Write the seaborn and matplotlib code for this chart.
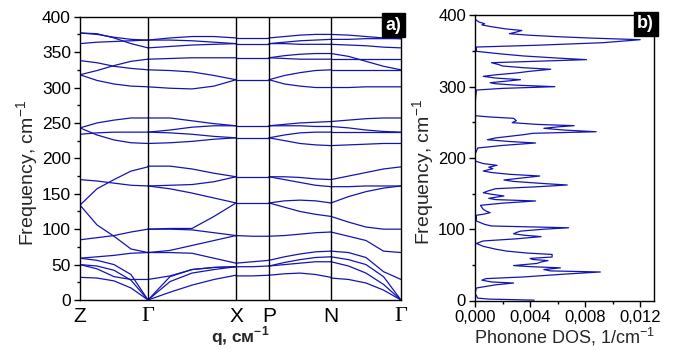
import numpy as np
import pandas as pd
import matplotlib
matplotlib.use("Agg")
import matplotlib.pyplot as plt
from matplotlib.ticker import MultipleLocator, FuncFormatter
import seaborn as sns

# ---------------------------------------------------------------------------
# Data
# ---------------------------------------------------------------------------
# High-symmetry points of the path and their cumulative path length
sym_labels = ["Z", "Γ", "X", "P", "N", "Γ"]
sym_dist = [0, 68, 156, 189, 251, 321]

# Phonon branches (cm^-1) for each path segment, sampled evenly along it
branches_Z_G = [
    [32, 31, 27, 17, 0],
    [50, 48, 42, 28, 0],
    [59, 56, 50, 36, 0],
    [50, 44, 33, 29, 29],
    [59, 61, 63, 66, 67],
    [85, 88, 91, 96, 100],
    [134, 106, 90, 72, 67],
    [134, 157, 170, 182, 188],
    [170, 168, 165, 162, 161],
    [243, 250, 254, 257, 257],
    [243, 233, 226, 222, 221],
    [234, 236, 237, 237, 237],
    [318, 310, 305, 302, 301],
    [318, 324, 331, 337, 340],
    [338, 335, 330, 327, 325],
    [362, 364, 365, 366, 367],
    [377, 376, 370, 362, 356],
    [377, 375, 371, 368, 367],
]
branches_G_X = [
    [0, 11, 21, 29, 35],
    [0, 26, 38, 43, 47],
    [0, 33, 43, 46, 47],
    [29, 34, 43, 46, 47],
    [67, 67, 66, 59, 52],
    [67, 70, 77, 84, 91],
    [100, 100, 99, 95, 91],
    [100, 101, 101, 118, 137],
    [161, 157, 151, 144, 137],
    [161, 162, 163, 167, 174],
    [189, 189, 185, 179, 174],
    [257, 257, 253, 249, 246],
    [237, 240, 244, 246, 246],
    [237, 236, 234, 231, 229],
    [221, 222, 224, 227, 229],
    [301, 299, 298, 302, 311],
    [325, 324, 322, 317, 311],
    [340, 341, 342, 342, 342],
    [356, 358, 360, 361, 362],
    [367, 370, 372, 372, 370],
    [367, 367, 366, 364, 362],
]
branches_X_P = [
    [34, 34, 35],
    [47, 47, 48],
    [52, 54, 56],
    [91, 90, 90],
    [137, 137, 137],
    [174, 174, 174],
    [229, 229, 229],
    [246, 246, 246],
    [311, 311, 311],
    [342, 342, 342],
    [362, 362, 362],
    [370, 370, 370],
]
branches_P_N = [
    [35, 37, 38, 36, 32],
    [48, 50, 52, 54, 54],
    [48, 53, 57, 60, 61],
    [56, 61, 65, 68, 69],
    [90, 91, 93, 95, 96],
    [137, 131, 125, 121, 118],
    [137, 140, 141, 140, 137],
    [174, 174, 173, 171, 170],
    [174, 170, 166, 162, 160],
    [246, 248, 250, 251, 252],
    [246, 246, 246, 245, 245],
    [229, 233, 236, 237, 237],
    [229, 225, 221, 219, 218],
    [311, 305, 302, 300, 300],
    [311, 317, 321, 324, 325],
    [342, 345, 347, 348, 348],
    [342, 341, 340, 340, 340],
    [362, 362, 361, 361, 361],
    [370, 372, 374, 375, 375],
    [362, 364, 366, 367, 368],
]
branches_N_G = [
    [31, 29, 24, 14, 0],
    [54, 48, 38, 22, 0],
    [61, 57, 50, 33, 0],
    [69, 67, 60, 40, 29],
    [96, 90, 84, 69, 67],
    [118, 110, 103, 100, 100],
    [137, 146, 153, 158, 161],
    [160, 160, 161, 161, 161],
    [170, 175, 180, 185, 188],
    [252, 254, 256, 257, 257],
    [245, 243, 240, 238, 237],
    [237, 237, 237, 237, 237],
    [218, 219, 220, 221, 221],
    [300, 300, 301, 301, 301],
    [325, 325, 325, 325, 325],
    [348, 344, 337, 330, 325],
    [340, 340, 340, 340, 340],
    [361, 360, 359, 357, 356],
    [375, 374, 372, 370, 369],
    [368, 368, 369, 369, 369],
]
segments = [branches_Z_G, branches_G_X, branches_X_P, branches_P_N, branches_N_G]

# Phonon density of states: frequency (cm^-1) and DOS (1/cm^-1), in curve order
dos_freq = [
    0.5, 2, 3.3, 10, 17.5, 22, 24.5, 26, 28.5, 30.7, 33, 37, 40, 41.5, 43.4,
    45.8, 47.5, 49, 52, 54, 56, 57.5, 59, 61, 64.6, 66.5, 69.3, 72, 76, 80,
    83.5, 86.5, 89.6, 91.5, 93.5, 95.3, 97.3, 100, 102, 104.5, 106.8, 111.5,
    119.5, 121, 123.2, 125.5, 127.9, 130.5, 133.5, 136.5, 139.6, 141.5, 143.3,
    146.6, 149, 151.2, 154, 156.8, 159.5, 162, 164, 167, 169, 172, 174.6, 177,
    179.5, 181.6, 184.9, 187, 189.6, 192, 195.7, 205, 213.9, 217.5, 220.9, 223,
    225.5, 228, 230.7, 232.5, 234.5, 236.7, 239, 241.5, 243.5, 245.2, 247,
    249.4, 252.2, 255.5, 257.5, 259.2, 275, 295.2, 297.5, 299.9, 302, 304,
    305.5, 307.5, 309.7, 312, 314.4, 316.5, 319.1, 321.5, 324.3, 326.5, 328.9,
    331, 333.5, 335.5, 337.8, 340, 343, 346, 349.5, 352.5, 355.5, 358, 361.6,
    363.5, 365.8, 368, 370, 372, 374.2, 376.5, 378.7, 381, 384, 386.5, 388.2,
    390.5, 393, 395.3,
]
dos_value = [
    0.0043, 0.0010, 0.0002, 0.0000, 0.0001, 0.0015, 0.0028, 0.0012, 0.0005,
    0.0008, 0.0035, 0.0065, 0.0091, 0.0055, 0.0050, 0.0062, 0.0040, 0.0028,
    0.0045, 0.0048, 0.0053, 0.0042, 0.0040, 0.0056, 0.0056, 0.0038, 0.0023,
    0.0015, 0.0006, 0.0001, 0.0006, 0.0030, 0.0048, 0.0036, 0.0028, 0.0030,
    0.0033, 0.0050, 0.0068, 0.0012, 0.0007, 0.0001, 0.0001, 0.0006, 0.0011,
    0.0008, 0.0006, 0.0005, 0.0004, 0.0020, 0.0044, 0.0015, 0.0010, 0.0021,
    0.0012, 0.0006, 0.0010, 0.0015, 0.0045, 0.0067, 0.0050, 0.0028, 0.0021,
    0.0035, 0.0047, 0.0025, 0.0012, 0.0006, 0.0013, 0.0010, 0.0016, 0.0006,
    0.0000, 0.0000, 0.0002, 0.0020, 0.0044, 0.0025, 0.0009, 0.0015, 0.0027,
    0.0035, 0.0042, 0.0088, 0.0065, 0.0050, 0.0060, 0.0072, 0.0045, 0.0027,
    0.0030, 0.0028, 0.0010, 0.0000, 0.0000, 0.0001, 0.0020, 0.0058, 0.0030,
    0.0015, 0.0011, 0.0022, 0.0033, 0.0015, 0.0006, 0.0015, 0.0030, 0.0040,
    0.0055, 0.0035, 0.0020, 0.0017, 0.0012, 0.0045, 0.0081, 0.0060, 0.0035,
    0.0018, 0.0001, 0.0001, 0.0001, 0.0045, 0.0093, 0.0105, 0.0120, 0.0085,
    0.0060, 0.0040, 0.0025, 0.0030, 0.0034, 0.0022, 0.0012, 0.0005, 0.0007,
    0.0003, 0.0001, 0.0000,
]

# ---------------------------------------------------------------------------
# Styling
# ---------------------------------------------------------------------------
sns.set_theme(style="ticks")
plt.rcParams["font.family"] = ["Liberation Sans", "DejaVu Sans"]
plt.rcParams.update({
    "mathtext.fontset": "custom",
    "mathtext.rm": "Liberation Sans",
    "mathtext.bf": "Liberation Sans:bold",
    "axes.edgecolor": "black",
    "axes.linewidth": 1.0,
    "xtick.color": "black",
    "ytick.color": "black",
    "xtick.direction": "out",
    "ytick.direction": "out",
})
line_color = "#1414b4"

# Long-form table of all dispersion branches
rows = []
bid = 0
for i, seg in enumerate(segments):
    for br in seg:
        q = np.linspace(sym_dist[i], sym_dist[i + 1], len(br))
        for qq, f in zip(q, br):
            rows.append({"q": qq, "freq": f, "branch": bid})
        bid += 1
disp = pd.DataFrame(rows)
dos = pd.DataFrame({"freq": dos_freq, "dos": dos_value})

fig = plt.figure(figsize=(6.75, 3.5), dpi=100)
ax1 = fig.add_axes([80 / 675, 50 / 350, 321 / 675, 283.3 / 350])
ax2 = fig.add_axes([475 / 675, 49.5 / 350, 179 / 675, 285.2 / 350])

# ---------------------------------------------------------------------------
# a) dispersion
# ---------------------------------------------------------------------------
sns.lineplot(data=disp, x="q", y="freq", units="branch", estimator=None,
             color=line_color, linewidth=0.9, ax=ax1, legend=False)
for d in sym_dist[1:-1]:
    ax1.axvline(d, color="black", linewidth=1.0, zorder=3)
ax1.set_xlim(sym_dist[0], sym_dist[-1])
ax1.set_ylim(0, 400)
ax1.set_xticks(sym_dist)
ax1.set_xticklabels(sym_labels)
for lab in ax1.get_xticklabels():
    if lab.get_text() == "Γ":
        lab.set_family(["Liberation Serif", "DejaVu Serif"])
        lab.set_fontsize(16)
    else:
        lab.set_fontsize(15)
ax1.tick_params(axis="x", length=0, pad=5)
ax1.yaxis.set_major_locator(MultipleLocator(50))
ax1.yaxis.set_minor_locator(MultipleLocator(25))
ax1.tick_params(axis="y", which="major", length=4.5, width=1, labelsize=12.5, pad=2)
ax1.tick_params(axis="y", which="minor", length=2.5, width=1)
ax1.set_ylabel("Frequency, cm$^{-1}$", fontsize=14)
ax1.yaxis.set_label_coords(-0.123, 0.45)
ax1.set_xlabel("q, см$^{\\mathbf{-1}}$", fontsize=12.5, fontweight="bold")
ax1.xaxis.set_label_coords(0.5, -0.085)
ax1.text(1.0, 1.0, "a)", transform=ax1.transAxes, ha="right", va="top",
         color="white", fontsize=13, fontweight="bold", zorder=5,
         bbox=dict(boxstyle="square,pad=0.2", facecolor="black", edgecolor="black"))

# ---------------------------------------------------------------------------
# b) density of states
# ---------------------------------------------------------------------------
sns.lineplot(data=dos, x="dos", y="freq", sort=False, estimator=None,
             color=line_color, linewidth=0.9, ax=ax2, legend=False)
ax2.set_xlim(0, 0.013)
ax2.set_ylim(0, 400)
ax2.xaxis.set_major_locator(MultipleLocator(0.004))
ax2.xaxis.set_minor_locator(MultipleLocator(0.002))
ax2.yaxis.set_major_locator(MultipleLocator(100))
ax2.yaxis.set_minor_locator(MultipleLocator(50))
ax2.xaxis.set_major_formatter(FuncFormatter(lambda v, p: f"{v:.3f}".replace(".", ",")))
ax2.tick_params(axis="both", which="major", length=4.5, width=1, labelsize=12, pad=2)
ax2.tick_params(axis="both", which="minor", length=2.5, width=1)
ax2.set_ylabel("Frequency, cm$^{-1}$", fontsize=14)
ax2.yaxis.set_label_coords(-0.21, 0.45)
ax2.set_xlabel("Phonone DOS, 1/cm$^{-1}$", fontsize=13, labelpad=1)
ax2.text(1.0, 1.0, "b)", transform=ax2.transAxes, ha="right", va="top",
         color="white", fontsize=13, fontweight="bold", zorder=5,
         bbox=dict(boxstyle="square,pad=0.2", facecolor="black", edgecolor="black"))

for ax in (ax1, ax2):
    for s in ax.spines.values():
        s.set_visible(True)
        s.set_color("black")
        s.set_linewidth(1.0)

fig.savefig("out.png", dpi=100)
